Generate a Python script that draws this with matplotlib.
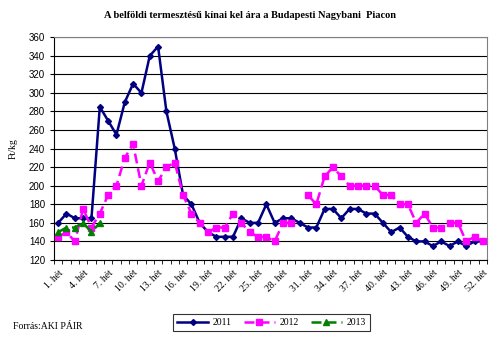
import numpy as np
import matplotlib
matplotlib.use('Agg')
import matplotlib.pyplot as plt
from matplotlib.ticker import FixedLocator

title = 'A belföldi termesztésű kínai kel ára a Budapesti Nagybani  Piacon'
weeks = ['%d. hét' % w for w in range(1, 53)]
nan = np.nan

p2011 = [160, 170, 165, 165, 165, 285, 270, 255, 290, 310, 300, 340, 350, 280, 240, 190,
         180, 160, 150, 145, 145, 145, 165, 160, 160, 180, 160, 165, 165, 160, 155, 155,
         175, 175, 165, 175, 175, 170, 170, 160, 150, 155, 145, 140, 140, 135, 140, 135,
         140, 135, 140, 140]
p2012 = [145, 150, 140, 175, 155, 170, 190, 200, 230, 245, 200, 225, 205, 220, 225, 190,
         170, 160, 150, 155, 155, 170, 160, 150, 145, 145, 140, 160, 160, nan, 190, 180,
         210, 220, 210, 200, 200, 200, 200, 190, 190, 180, 180, 160, 170, 155, 155, 160,
         160, 140, 145, 140]
p2013 = [150, 155, 155, 160, 150, 160] + [nan] * 46

serif = ['Liberation Serif', 'DejaVu Serif']
sans = ['Liberation Sans', 'DejaVu Sans']

fig = plt.figure(figsize=(5.0, 3.37), dpi=100)
ax = fig.add_axes([0.108, 0.2285, 0.866, 0.661])

x = np.arange(len(weeks))
ax.plot(x, p2011, color='#000080', lw=1.8, marker='D', ms=3, label='2011', zorder=3)
ax.plot(x, p2012, color='#FF00FF', lw=1.8, ls=(0, (4, 2)), marker='s', ms=5,
        label='2012', zorder=4)
ax.plot(x, p2013, color='#008000', lw=1.8, ls=(0, (4, 2)), marker='^', ms=5,
        label='2013', zorder=5)

ax.set_xlim(-0.5, len(weeks) - 0.5)
ax.set_ylim(120, 360)
ax.set_yticks(np.arange(120, 361, 20))
ax.yaxis.grid(True, color='black', lw=0.8)
ax.set_axisbelow(True)
for s in ['top', 'right']:
    ax.spines[s].set_color('#808080')
ax.spines['left'].set_color('black')
ax.spines['bottom'].set_color('black')

ax.set_xticks(x[::3])
ax.set_xticklabels(weeks[::3], rotation=45, ha='right', rotation_mode='anchor',
                   family=serif, fontsize=7)
ax.tick_params(axis='x', which='major', length=0, pad=6)
ax.xaxis.set_minor_locator(FixedLocator(np.arange(-0.5, len(weeks), 1.0)))
ax.tick_params(axis='x', which='minor', length=3, direction='out')
ax.tick_params(axis='y', length=3, direction='out', labelsize=7)
for lab in ax.get_yticklabels():
    lab.set_family(sans)

ax.set_ylabel('Ft/kg', family=serif, fontsize=7, labelpad=8)
fig.text(0.5, 0.955, title, ha='center', va='center', family=serif,
         fontsize=7.5, fontweight='bold')
fig.text(0.026, 0.03, 'Forrás:AKI PÁIR', ha='left', va='center', family=serif, fontsize=7)

leg = fig.legend(loc='center', bbox_to_anchor=(0.543, 0.043), ncol=3, frameon=True,
                 fancybox=False, edgecolor='black', prop={'family': serif, 'size': 7},
                 handlelength=3.2, columnspacing=1.2, handletextpad=0.5, borderpad=0.4)
leg.get_frame().set_linewidth(0.8)

fig.savefig('out.png', dpi=100)
